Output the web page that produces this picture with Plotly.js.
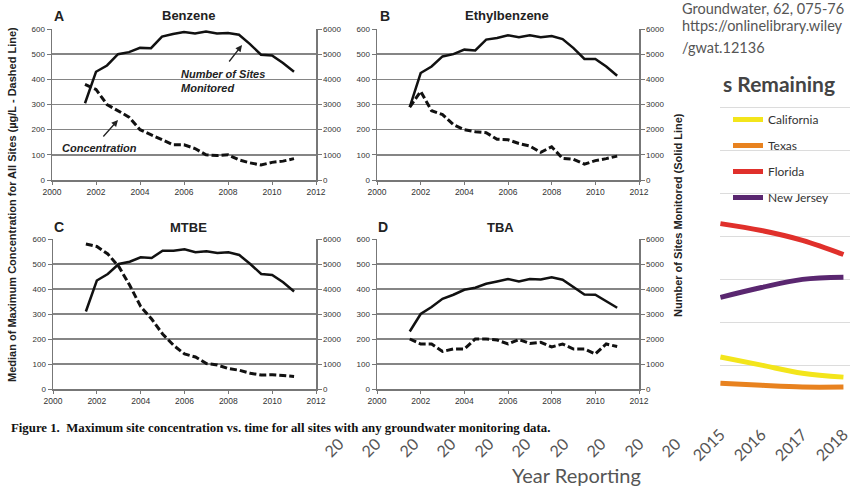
<!DOCTYPE html>
<html>
<head>
<meta charset="utf-8">
<script src="https://cdn.plot.ly/plotly-3.0.1.min.js"></script>
<style>
html,body{margin:0;padding:0;background:#fff;}
#chart{width:850px;height:489px;}
</style>
</head>
<body>
<div id="chart"></div>
<script>
// ---- Data ----
var years = [2001.5,2002,2002.5,2003,2003.5,2004,2004.5,2005,2005.5,2006,2006.5,2007,2007.5,2008,2008.5,2009,2009.5,2010,2010.5,2011];

var benzeneConc  = [380,360,300,275,250,200,180,160,140,140,125,100,97,100,80,68,60,70,75,85];
var benzeneSites = [3050,4300,4550,5000,5080,5250,5240,5700,5800,5880,5820,5900,5820,5840,5770,5400,4980,4950,4650,4300];

var ethylConc  = [290,352,275,260,220,200,192,188,162,160,145,135,110,132,86,82,63,77,85,95];
var ethylSites = [2900,4250,4510,4910,5000,5180,5150,5580,5640,5750,5670,5750,5670,5720,5600,5240,4810,4810,4510,4140];

var mtbeConc  = [580,570,540,490,415,330,280,220,175,140,128,102,96,82,75,63,56,57,54,50];
var mtbeSites = [3100,4340,4600,5000,5090,5270,5240,5530,5530,5590,5470,5510,5440,5470,5360,5000,4600,4560,4270,3900];

var tbaConc  = [200,180,180,150,160,160,200,200,196,180,198,182,187,168,180,160,160,140,180,170];
var tbaSites = [2300,3000,3280,3610,3770,3970,4050,4210,4300,4400,4300,4400,4380,4470,4370,4080,3780,3770,3500,3250];

var panelLetters = ["A","B","C","D"];
var panelNames = ["Benzene","Ethylbenzene","MTBE","TBA"];
var xTickVals = [2000,2002,2004,2006,2008,2010,2012];

// background (partly covered) chart
var stateYears = [2015,2016,2017,2018];
var stateNames = ["California","Texas","Florida","New Jersey"];
var california = [1.19,1.00,0.81,0.72];
var texas      = [0.58,0.53,0.49,0.49];
var florida    = [4.30,4.14,3.91,3.58];
var newJersey  = [2.58,2.81,3.00,3.05];
var hiddenYearLabels = ["20","20","20","20","20","20","20","20","20","20"];

// ---- Helpers ----
var W = 850, H = 489;
function px(x){ return x / W; }
function py(y){ return 1 - y / H; }

var FONT = "Liberation Sans, Arial, sans-serif";
var GEO = "Lato, 'Open Sans', sans-serif";

var panels = [
  {conc: benzeneConc, sites: benzeneSites, x:[52,316], y:[29,180]},
  {conc: ethylConc,   sites: ethylSites,   x:[377,639], y:[29,180]},
  {conc: mtbeConc,    sites: mtbeSites,    x:[53,316], y:[239,389]},
  {conc: tbaConc,     sites: tbaSites,     x:[377,639], y:[239,389]}
];

var traces = [];
var layout = {
  width: W, height: H,
  margin: {l:0, r:0, t:0, b:0},
  paper_bgcolor: "#fff",
  plot_bgcolor: "rgba(0,0,0,0)",
  showlegend: true,
  legend: {
    x: px(728), y: py(105), xanchor: "left", yanchor: "top",
    bgcolor: "rgba(0,0,0,0)", borderwidth: 0,
    font: {family: GEO, size: 12, color: "#333"},
    tracegroupgap: 7, itemwidth: 30
  },
  annotations: [],
  shapes: []
};

panels.forEach(function(p, i){
  var n = i + 1;
  var xa = n === 1 ? "x" : "x" + n;
  var yl = "y" + (2*i + 1 === 1 ? "" : (2*i + 1));
  var yr = "y" + (2*i + 2);
  var xKey = n === 1 ? "xaxis" : "xaxis" + n;
  var ylKey = (2*i + 1) === 1 ? "yaxis" : "yaxis" + (2*i + 1);
  var yrKey = "yaxis" + (2*i + 2);

  layout[xKey] = {
    domain: [px(p.x[0]), px(p.x[1])],
    anchor: yl,
    range: [2000, 2012],
    tickvals: xTickVals,
    ticks: "outside", ticklen: 3, tickcolor: "#777", tickwidth: 1,
    showline: true, linecolor: "#777", linewidth: 1.5,
    showgrid: false, zeroline: false,
    tickfont: {family: FONT, size: 8.5, color: "#333"}
  };
  layout[ylKey] = {
    domain: [py(p.y[1]), py(p.y[0])],
    anchor: xa,
    range: [0, 600], dtick: 100, tick0: 0,
    ticks: "outside", ticklen: 4, tickcolor: "#777",
    showline: true, linecolor: "#777", linewidth: 1.5,
    showgrid: true, gridcolor: "#858585", gridwidth: 1.6,
    zeroline: false,
    tickfont: {family: FONT, size: 8, color: "#333"}
  };
  layout[yrKey] = {
    overlaying: yl, anchor: xa, side: "right",
    range: [0, 6000], dtick: 1000, tick0: 0,
    ticks: "outside", ticklen: 4, tickcolor: "#777",
    showline: true, linecolor: "#777", linewidth: 1.5,
    showgrid: false, zeroline: false,
    tickfont: {family: FONT, size: 8, color: "#333"}
  };

  traces.push({
    x: years, y: p.conc, xaxis: xa, yaxis: yl,
    mode: "lines", showlegend: false, hoverinfo: "skip",
    line: {color: "#111", width: 3, dash: "7px,3px"}
  });
  traces.push({
    x: years, y: p.sites, xaxis: xa, yaxis: yr,
    mode: "lines", showlegend: false, hoverinfo: "skip",
    line: {color: "#111", width: 2.5}
  });
});

// Panel letters and titles
var letterPos = [[59,16],[385,16],[59,227],[383,227]];
var namePos = [[188,16],[507,16],[188,227],[500,227]];
panelLetters.forEach(function(t, i){
  layout.annotations.push({text: "<b>" + t + "</b>", xref:"paper", yref:"paper",
    x: px(letterPos[i][0]), y: py(letterPos[i][1]), showarrow:false,
    font:{family:FONT, size:14, color:"#222"}});
  layout.annotations.push({text: "<b>" + panelNames[i] + "</b>", xref:"paper", yref:"paper",
    x: px(namePos[i][0]), y: py(namePos[i][1]), showarrow:false,
    font:{family:FONT, size:13, color:"#222"}});
});

// in-chart labels and arrows (panel A)
layout.annotations.push({text:"<b><i>Number of Sites<br>Monitored</i></b>", xref:"paper", yref:"paper",
  x: px(179), y: py(81), xanchor:"left", yanchor:"middle", align:"left", showarrow:false,
  font:{family:FONT, size:11, color:"#222"}});
layout.annotations.push({text:"", xref:"paper", yref:"paper", x: px(242), y: py(45),
  ax: -14, ay: 18, showarrow:true, arrowhead:2, arrowsize:1, arrowwidth:1.3, arrowcolor:"#222"});
layout.annotations.push({text:"<b><i>Concentration</i></b>", xref:"paper", yref:"paper",
  x: px(60), y: py(148), xanchor:"left", showarrow:false,
  font:{family:FONT, size:11, color:"#222"}});
layout.annotations.push({text:"", xref:"paper", yref:"paper", x: px(118), y: py(120),
  ax: -16, ay: 18, showarrow:true, arrowhead:2, arrowsize:1, arrowwidth:1.3, arrowcolor:"#222"});

// axis titles
layout.annotations.push({text:"<b>Median of Maximum Concentration for All Sites (µg/L - Dashed Line)</b>",
  xref:"paper", yref:"paper", x: px(12), y: py(205), textangle:-90, showarrow:false,
  font:{family:FONT, size:11, color:"#222"}});
layout.annotations.push({text:"<b>Number of Sites Monitored (Solid Line)</b>",
  xref:"paper", yref:"paper", x: px(678), y: py(215), textangle:-90, showarrow:false,
  font:{family:FONT, size:11, color:"#222"}});

// caption
layout.annotations.push({text:"<b>Figure 1.  Maximum site concentration vs. time for all sites with any groundwater monitoring data.</b>",
  xref:"paper", yref:"paper", x: px(9), y: py(428), xanchor:"left", showarrow:false,
  font:{family:"Liberation Serif, 'Times New Roman', serif", size:12.8, color:"#111"}});

// ---- background chart (partly covered) ----
layout.xaxis5 = {
  domain: [px(720), px(850)], anchor: "y9",
  range: [2014.99, 2018.16],
  tickvals: stateYears, ticktext: stateYears.map(String),
  tickangle: -45, ticks: "outside", ticklen: 10, tickcolor: "rgba(0,0,0,0)",
  ticklabeloverflow: "allow",
  showline: false, showgrid: false, zeroline: false,
  tickfont: {family: GEO, size: 16, color: "#555"}
};
layout.yaxis9 = {
  domain: [py(408), py(65)], anchor: "x5",
  range: [0, 8], dtick: 1, tick0: 0,
  showticklabels: false, ticks: "",
  showgrid: true, gridcolor: "#dcdcdc", gridwidth: 1,
  zeroline: false, showline: false
};
var stateSeries = [california, texas, florida, newJersey];
var stateColors = ["#f3e51b", "#e8821f", "#e0302b", "#5a2770"];
stateSeries.forEach(function(s, i){
  traces.push({
    x: stateYears, y: s, xaxis: "x5", yaxis: "y9",
    name: stateNames[i], legendgroup: "g" + i,
    mode: "lines", hoverinfo: "skip",
    line: {color: stateColors[i], width: 5, shape: "spline"}
  });
});

// partially visible tick labels of the background chart
var hiddenX = [324,361,399,436,474,511,549,586,624,661];
hiddenYearLabels.forEach(function(t, i){
  layout.annotations.push({text: t, xref:"paper", yref:"paper",
    x: px(hiddenX[i] + 9), y: py(447), textangle: -45, showarrow:false,
    font:{family:GEO, size:16, color:"#555"}});
});

layout.annotations.push({text:"Year Reporting", xref:"paper", yref:"paper",
  x: px(576), y: py(475), showarrow:false, font:{family:GEO, size:20, color:"#555"}});
layout.annotations.push({text:"<b>s Remaining</b>", xref:"paper", yref:"paper",
  x: px(721), y: py(83), xanchor:"left", showarrow:false, font:{family:GEO, size:21, color:"#444"}});
layout.annotations.push({text:"Groundwater, 62, 075-76", xref:"paper", yref:"paper",
  x: px(680), y: py(8), xanchor:"left", showarrow:false, font:{family:GEO, size:14.5, color:"#555"}});
layout.annotations.push({text:"https://onlinelibrary.wiley", xref:"paper", yref:"paper",
  x: px(680), y: py(26), xanchor:"left", showarrow:false, font:{family:GEO, size:14.5, color:"#555"}});
layout.annotations.push({text:"/gwat.12136", xref:"paper", yref:"paper",
  x: px(680), y: py(47), xanchor:"left", showarrow:false, font:{family:GEO, size:14.5, color:"#555"}});

// explicit anchoring (avoid Plotly's automatic anchoring near paper edges)
layout.annotations.forEach(function(a){
  if(!a.xanchor) a.xanchor = "center";
  if(!a.yanchor) a.yanchor = "middle";
});

Plotly.newPlot("chart", traces, layout, {displayModeBar:false, staticPlot:true});
</script>
</body>
</html>
